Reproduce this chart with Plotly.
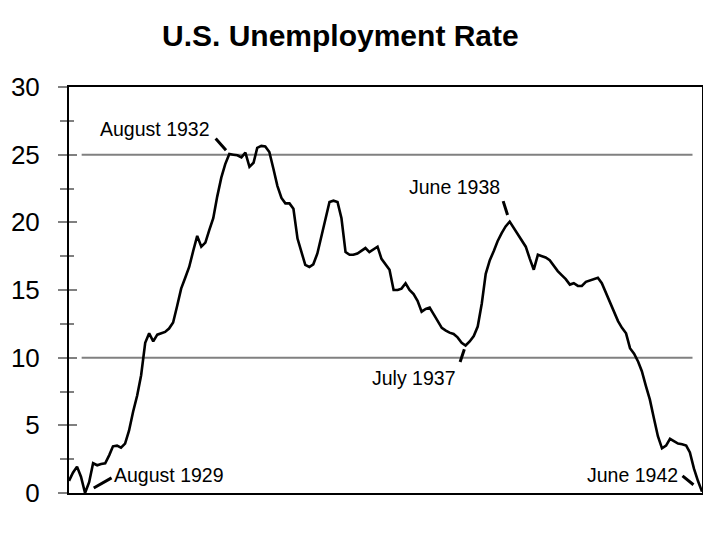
import pandas as pd
import plotly.graph_objects as go

# ---- data ----
months = pd.date_range("1929-04-01", periods=159, freq="MS")
unemployment = [
    0.9, 1.5, 1.95, 1.2, 0.0, 0.8, 2.2, 2.05, 2.15, 2.2,
    2.8, 3.45, 3.5, 3.35, 3.65, 4.6, 6.0, 7.2, 8.7, 11.1,
    11.8, 11.2, 11.7, 11.8, 11.9, 12.15, 12.6, 13.8, 15.1, 15.9,
    16.7, 17.9, 19.0, 18.2, 18.5, 19.4, 20.3, 21.9, 23.3, 24.3,
    25.05, 25.0, 24.95, 24.8, 25.15, 24.1, 24.4, 25.5, 25.65, 25.6,
    25.2, 24.0, 22.7, 21.8, 21.4, 21.4, 21.0, 18.8, 17.8, 16.85,
    16.7, 16.9, 17.7, 19.0, 20.3, 21.5, 21.6, 21.5, 20.3, 17.8,
    17.6, 17.6, 17.7, 17.9, 18.1, 17.8, 18.0, 18.2, 17.3, 16.9,
    16.5, 15.0, 15.0, 15.1, 15.5, 15.0, 14.7, 14.2, 13.4, 13.6,
    13.7, 13.2, 12.7, 12.2, 12.0, 11.85, 11.75, 11.5, 11.1, 10.9,
    11.2, 11.6, 12.3, 14.0, 16.2, 17.2, 17.9, 18.6, 19.2, 19.7,
    20.05, 19.6, 19.2, 18.7, 18.2, 17.3, 16.5, 17.6, 17.5, 17.4,
    17.2, 16.8, 16.4, 16.1, 15.8, 15.4, 15.5, 15.3, 15.3, 15.6,
    15.7, 15.8, 15.9, 15.5, 14.8, 14.0, 13.3, 12.7, 12.2, 11.8,
    10.7, 10.3, 9.7, 9.0, 7.9, 6.9, 5.5, 4.2, 3.3, 3.5,
    4.0, 3.8, 3.65, 3.6, 3.5, 3.0, 1.8, 0.9, 0.1,
]
y_tickvals = [0, 5, 10, 15, 20, 25, 30]
y_ticktext = ["0", "5", "10", "15", "20", "25", "30"]
reference_levels = [25, 10]

# labelled months
callout_labels = ["August 1929", "August 1932", "July 1937", "June 1938", "June 1942"]
callout_months = ["1929-08-01", "1932-08-01", "1937-07-01", "1938-06-01", "1942-06-01"]
# (text dx, text dy, pointer tail dx, tail dy, standoff) in pixels
callout_style = [
    (84, 18, 28, -16, 10),
    (-74, 25, -15, -17, 5),
    (-52, -33, -6, 18, 4),
    (-55, 35, -7, -22, 7),
    (-70, 17, -21, -17, 11),
]

FONT = "Liberation Sans, Arial, sans-serif"
GREY = "#808080"

# the page body adds an 8px offset; the figure is sized to fill the rest
W, H = 712, 532

fig = go.Figure()
fig.add_trace(go.Scatter(
    x=months, y=unemployment, mode="lines",
    line=dict(color="black", width=2.6), showlegend=False, hoverinfo="skip",
))
fig.add_trace(go.Scatter(x=[], y=[], yaxis="y2", showlegend=False))
fig.add_trace(go.Scatter(x=[], y=[], yaxis="y3", showlegend=False))

for lvl in reference_levels:
    fig.add_shape(type="line", xref="paper", x0=0.02, x1=0.985, yref="y",
                  y0=lvl, y1=lvl, line=dict(color=GREY, width=2), layer="below")

month_index = {m.strftime("%Y-%m-%d"): i for i, m in enumerate(months)}
for label, m, (tdx, tdy, adx, ady, so) in zip(callout_labels, callout_months, callout_style):
    yv = unemployment[month_index[m]]
    fig.add_annotation(x=m, y=yv, text=label, showarrow=False,
                       xshift=tdx, yshift=tdy,
                       font=dict(family=FONT, size=19.5, color="black"))
    fig.add_annotation(x=m, y=yv, text="", showarrow=True, arrowhead=0,
                       arrowwidth=3, arrowcolor="black", ax=adx, ay=ady,
                       axref="pixel", ayref="pixel", standoff=so)

yrange = [0, 30]
fig.update_layout(
    width=W, height=H,
    margin=dict(l=61, r=18, t=79, b=47, autoexpand=False),
    paper_bgcolor="white", plot_bgcolor="white",
    title=dict(text="<b>U.S. Unemployment Rate</b>", x=(162 - 8) / W, xanchor="left",
               xref="container", y=1 - 27 / H, yanchor="middle",
               font=dict(family=FONT, size=30, color="black")),
    xaxis=dict(range=[months[0], months[-1]], showticklabels=False, ticks="",
               showgrid=False, zeroline=False, showline=True, linecolor="black",
               linewidth=1.5, mirror=True, automargin=False),
    yaxis=dict(range=yrange, tickvals=y_tickvals, ticktext=y_ticktext,
               ticks="outside", ticklen=9, tickwidth=2, tickcolor=GREY,
               ticklabelstandoff=13, automargin=False,
               minor=dict(dtick=2.5, ticks="outside", ticklen=7, tickwidth=2,
                          tickcolor=GREY, showgrid=False),
               tickfont=dict(family=FONT, size=26, color="black"),
               showgrid=False, zeroline=False, showline=True,
               linecolor="black", linewidth=2),
    yaxis2=dict(range=yrange, overlaying="y", side="left", tickvals=y_tickvals,
                ticks="inside", ticklen=8, tickwidth=2, tickcolor=GREY,
                minor=dict(dtick=2.5, ticks="inside", ticklen=5, tickwidth=2,
                           tickcolor=GREY, showgrid=False),
                automargin=False,
                showticklabels=False, showgrid=False, zeroline=False, showline=False),
    yaxis3=dict(range=yrange, overlaying="y", side="right", ticks="",
                automargin=False,
                showticklabels=False, showgrid=False, zeroline=False,
                showline=True, linecolor="black", linewidth=1),
)

fig.write_html("out.html")
